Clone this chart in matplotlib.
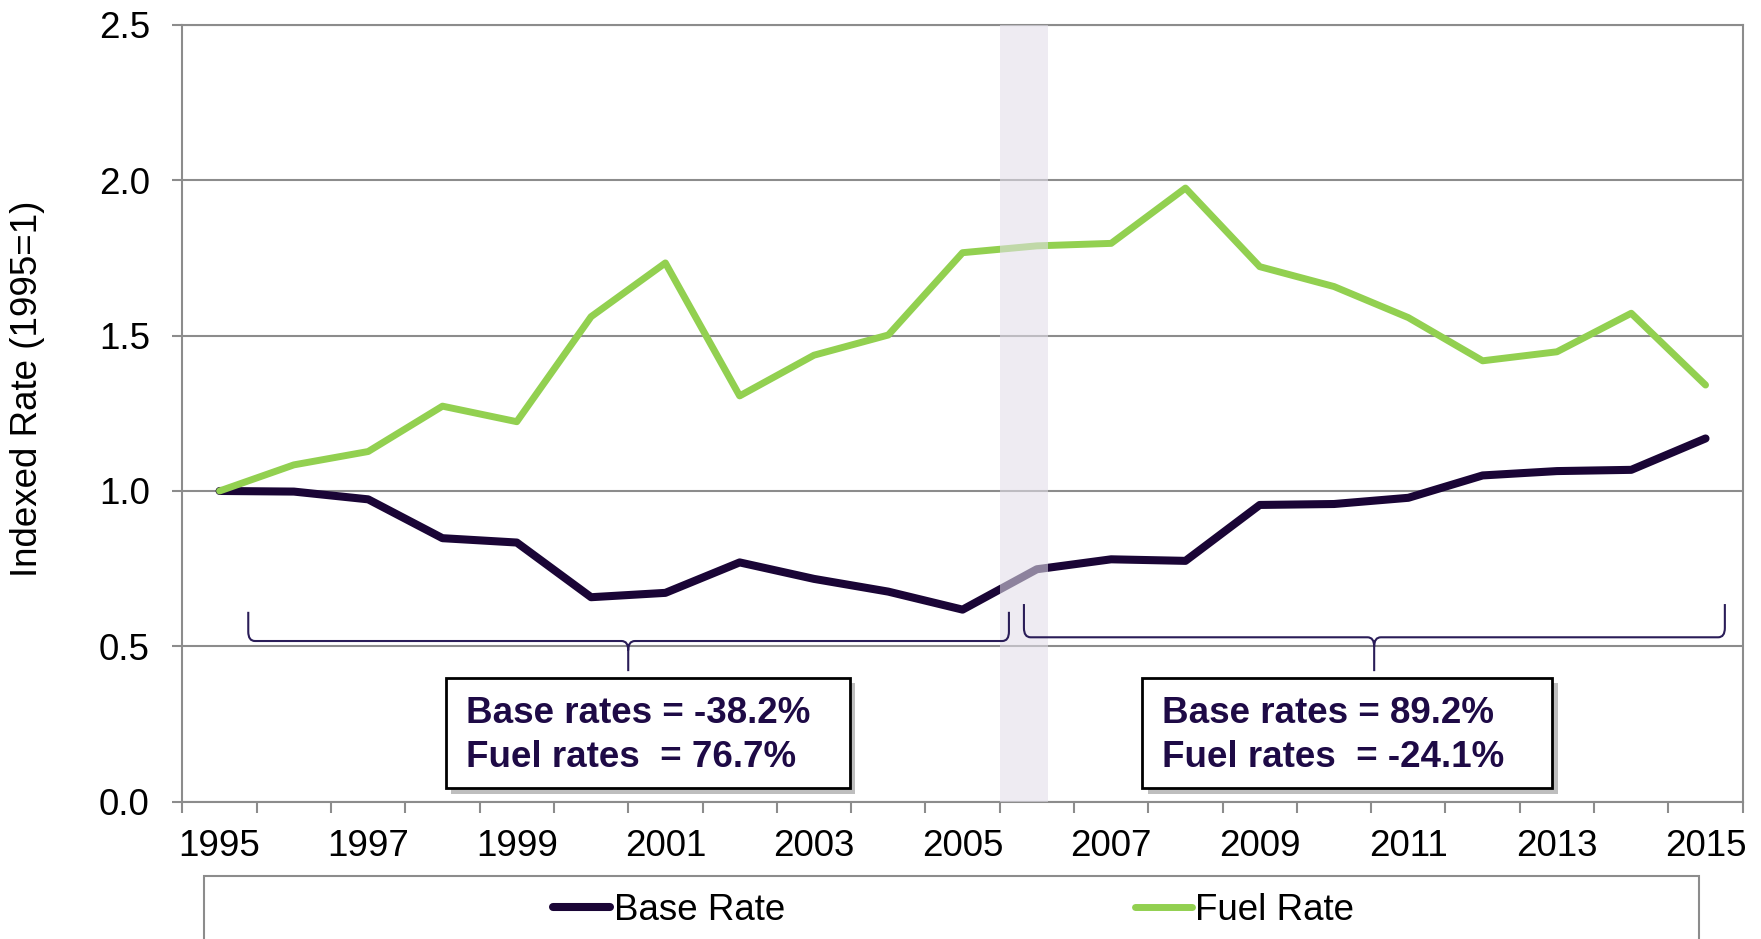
import numpy as np
import matplotlib.pyplot as plt
from matplotlib.patches import Rectangle, PathPatch
from matplotlib.path import Path
from matplotlib.ticker import FormatStrFormatter
import matplotlib.patheffects as pe

plt.rcParams['font.family'] = ['Liberation Sans', 'DejaVu Sans']

years = list(range(1995, 2016))
base_rate = [1.000, 0.998, 0.973, 0.848, 0.834, 0.658, 0.672, 0.770, 0.717, 0.676, 0.618,
             0.748, 0.780, 0.775, 0.955, 0.958, 0.978, 1.050, 1.064, 1.068, 1.169]
fuel_rate = [1.000, 1.084, 1.127, 1.273, 1.223, 1.561, 1.734, 1.306, 1.437, 1.502, 1.767,
             1.789, 1.797, 1.975, 1.722, 1.658, 1.558, 1.419, 1.448, 1.572, 1.341]
box_left = ['Base rates = -38.2%', 'Fuel rates  = 76.7%']
box_right = ['Base rates = 89.2%', 'Fuel rates  = -24.1%']

base_col = '#1a0536'
fuel_col = '#92d050'
grid_col = '#8c8c8c'
txt_col = '#1e0a46'
brace_col = '#2a1d58'
fs = 26.5

fig = plt.figure(figsize=(17.61, 9.39), dpi=100)
ax = fig.add_axes([0.1036, 0.1463, 0.886, 0.8271])
x = np.arange(len(years))

ax.plot(x, base_rate, color=base_col, lw=5.8, solid_capstyle='round',
        solid_joinstyle='round', label='Base Rate', zorder=3)
ax.plot(x, fuel_rate, color=fuel_col, lw=5.0, solid_capstyle='round',
        solid_joinstyle='round', label='Fuel Rate', zorder=3)

# shaded transition year
ax.axvspan(10.5, 11.15, color='#e2dee9', alpha=0.58, lw=0, zorder=4)

ax.set_xlim(-0.5, 20.5)
ax.set_ylim(0, 2.5)
ax.set_yticks(np.arange(0, 2.51, 0.5))
ax.yaxis.set_major_formatter(FormatStrFormatter('%.1f'))
ax.grid(axis='y', color=grid_col, lw=1.5)
ax.set_axisbelow(True)

ax.set_xticks(np.arange(-0.5, 21, 1))
ax.set_xticklabels([])
ax.set_xticks(x[::2], minor=True)
ax.set_xticklabels([str(y) for y in years[::2]], minor=True)
ax.tick_params(axis='x', which='major', length=8, width=1.5, color=grid_col, direction='out')
ax.tick_params(axis='x', which='minor', length=0, pad=20, labelsize=fs)
ax.tick_params(axis='y', length=7.5, width=1.5, color=grid_col, pad=16, labelsize=fs)
for s in ax.spines.values():
    s.set_color(grid_col)
    s.set_linewidth(1.5)

ax.set_ylabel('Indexed Rate (1995=1)', fontsize=fs, va='center')
ax.yaxis.set_label_coords(-0.099, 0.531)


# curly braces under the two periods
def brace(x0, x1, xt, ytop, yh, ytip):
    rx, ry = 0.09, 0.03
    verts = [(x0, ytop), (x0, yh + ry), (x0, yh), (x0 + rx, yh), (xt - rx, yh),
             (xt, yh), (xt, yh - ry), (xt, ytip),
             (x1, ytop), (x1, yh + ry), (x1, yh), (x1 - rx, yh), (xt + rx, yh),
             (xt, yh), (xt, yh - ry)]
    codes = [Path.MOVETO, Path.LINETO, Path.CURVE3, Path.CURVE3, Path.LINETO,
             Path.CURVE3, Path.CURVE3, Path.LINETO,
             Path.MOVETO, Path.LINETO, Path.CURVE3, Path.CURVE3, Path.LINETO,
             Path.CURVE3, Path.CURVE3]
    ax.add_patch(PathPatch(Path(verts, codes), fill=False, edgecolor=brace_col,
                           lw=1.5, zorder=5))


brace(0.386, 10.624, 5.50, 0.611, 0.517, 0.420)
brace(10.826, 20.26, 15.54, 0.636, 0.529, 0.420)

# summary boxes
for (l, r), lines in [((3.046, 8.484), box_left), ((12.42, 17.94), box_right)]:
    rect = Rectangle((l, 0.044), r - l, 0.355, facecolor='white', edgecolor='black',
                     lw=2, zorder=5)
    rect.set_path_effects([pe.SimplePatchShadow(offset=(4, -4), shadow_rgbFace='#7f7f7f',
                                                alpha=0.5), pe.Normal()])
    ax.add_patch(rect)
    ax.text(l + 0.27, 0.253, lines[0], fontsize=fs, fontweight='bold', color=txt_col,
            va='baseline', zorder=6)
    ax.text(l + 0.27, 0.112, lines[1], fontsize=fs, fontweight='bold', color=txt_col,
            va='baseline', zorder=6)

# legend with its frame running off the bottom
fig.legend(loc='center left', bbox_to_anchor=(553 / 1761, 1 - 910 / 939), ncol=2,
           frameon=False, fontsize=fs, borderpad=0, borderaxespad=0, handlelength=1.55,
           handletextpad=0.1, columnspacing=9.5)
fig.add_artist(Rectangle((204 / 1761, -0.1), (1699 - 204) / 1761, 0.1 + 1 - 875.7 / 939,
                         transform=fig.transFigure, fill=False, edgecolor=grid_col, lw=1.5))

fig.savefig('out.png', dpi=100)
